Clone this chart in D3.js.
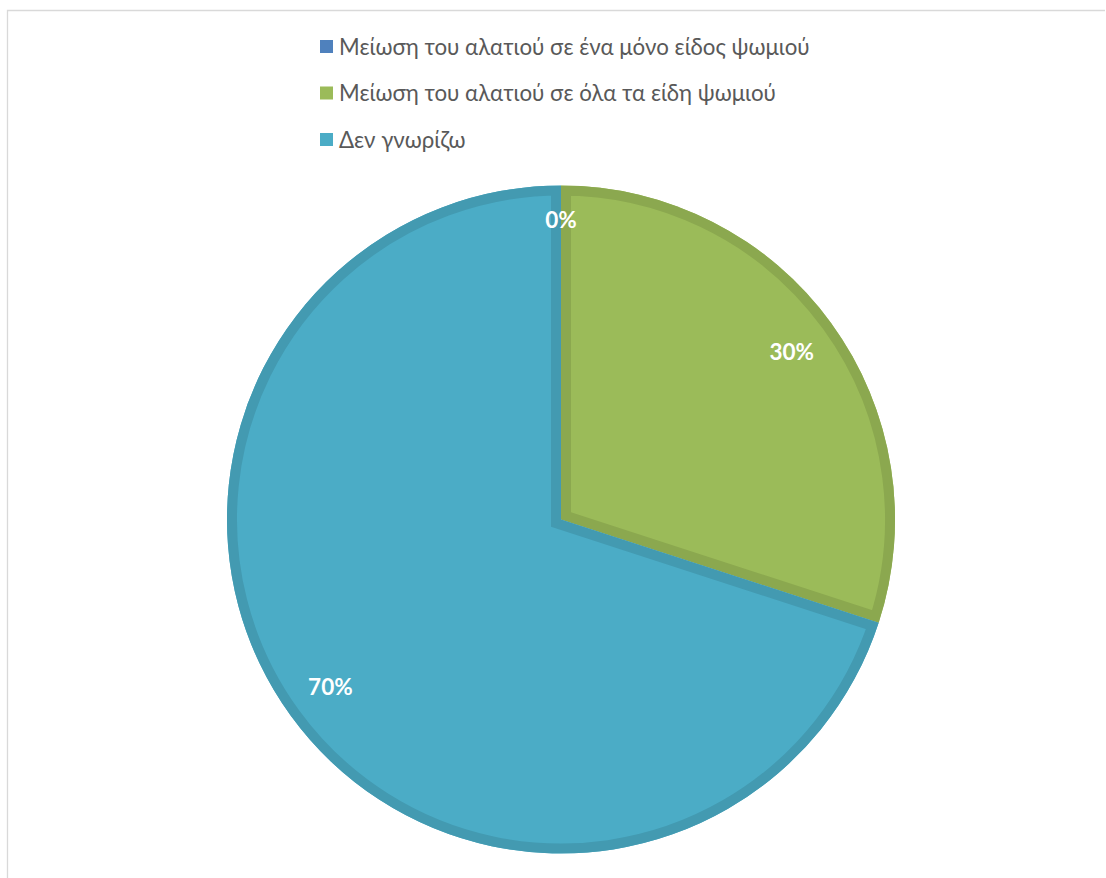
<!DOCTYPE html>
<html>
<head>
<meta charset="utf-8">
<script src="https://cdn.jsdelivr.net/npm/d3@7"></script>
<style>
  html, body { margin: 0; padding: 0; background: #ffffff; }
  svg { display: block; }
</style>
</head>
<body>
<svg id="chart" width="1106" height="878"></svg>
<script>
// Survey answers and their shares (percent)
const categories = [
  "Μείωση του αλατιού σε ένα μόνο είδος ψωμιού",
  "Μείωση του αλατιού σε όλα τα είδη ψωμιού",
  "Δεν γνωρίζω"
];
const values = [0, 30, 70];
const fillColors = ["#4F81BD", "#9BBB59", "#4BACC6"];
const edgeColors = ["#44709F", "#8BA84F", "#439AB1"];

const svg = d3.select("#chart");
const W = 1106, H = 878;
const textFont = "Lato, 'Open Sans', 'Liberation Sans', sans-serif";

// Chart area frame (only top and left edges fall inside the view)
svg.append("path")
  .attr("d", `M7.5,${H} L7.5,10.5 L${W - 1},10.5`)
  .attr("fill", "none")
  .attr("stroke", "#D9D9D9")
  .attr("stroke-width", 1.3);

// Legend
const legend = svg.append("g").attr("class", "legend");
const legendY = d3.scalePoint().domain(categories).range([47, 140]);
const li = legend.selectAll("g").data(categories).join("g")
  .attr("transform", d => `translate(320,${legendY(d)})`);
li.append("rect")
  .attr("x", 0).attr("y", -7).attr("width", 13).attr("height", 13)
  .attr("fill", (d, i) => fillColors[i]);
li.append("text")
  .attr("x", 19).attr("y", 0)
  .attr("dy", "0.35em")
  .attr("font-family", textFont)
  .attr("font-size", 22.3)
  .attr("fill", "#595959")
  .text(d => d);

// Pie
const cx = 561, cy = 519.5, r = 334, borderW = 10;
const pie = d3.pie().sort(null).value(d => d)
  .startAngle(0).endAngle(2 * Math.PI);
const arcs = pie(values);
const arc = d3.arc().innerRadius(0).outerRadius(r);

const g = svg.append("g").attr("transform", `translate(${cx},${cy})`);
const defs = svg.append("defs");

arcs.forEach((a, i) => {
  if (a.endAngle - a.startAngle <= 0) return;
  const id = "slice-clip-" + i;
  defs.append("clipPath").attr("id", id)
    .append("path").attr("d", arc(a));
  const s = g.append("g");
  s.append("path")
    .attr("d", arc(a))
    .attr("fill", fillColors[i]);
  // inner edge band
  s.append("path")
    .attr("d", arc(a))
    .attr("fill", "none")
    .attr("stroke", edgeColors[i])
    .attr("stroke-width", borderW * 2)
    .attr("stroke-linejoin", "miter")
    .attr("clip-path", `url(#${id})`);
});

// Percentage labels, pushed toward the outer edge of each slice
const labelLimit = r - 25;
arcs.forEach((a, i) => {
  const mid = (a.startAngle + a.endAngle) / 2;
  const t = g.append("text")
    .attr("text-anchor", "middle")
    .attr("dy", "0.35em")
    .attr("font-family", textFont)
    .attr("font-weight", "bold")
    .attr("font-size", 22.5)
    .attr("fill", "#ffffff")
    .text(d3.format(".0%")(values[i] / d3.sum(values)));
  const bb = t.node().getBBox();
  const hw = bb.width / 2, hh = 10;
  const sx = Math.sin(mid), sy = -Math.cos(mid);
  const d = labelLimit - (Math.abs(hw * sx) + Math.abs(hh * sy));
  t.attr("x", d * sx).attr("y", d * sy);
});
</script>
</body>
</html>
